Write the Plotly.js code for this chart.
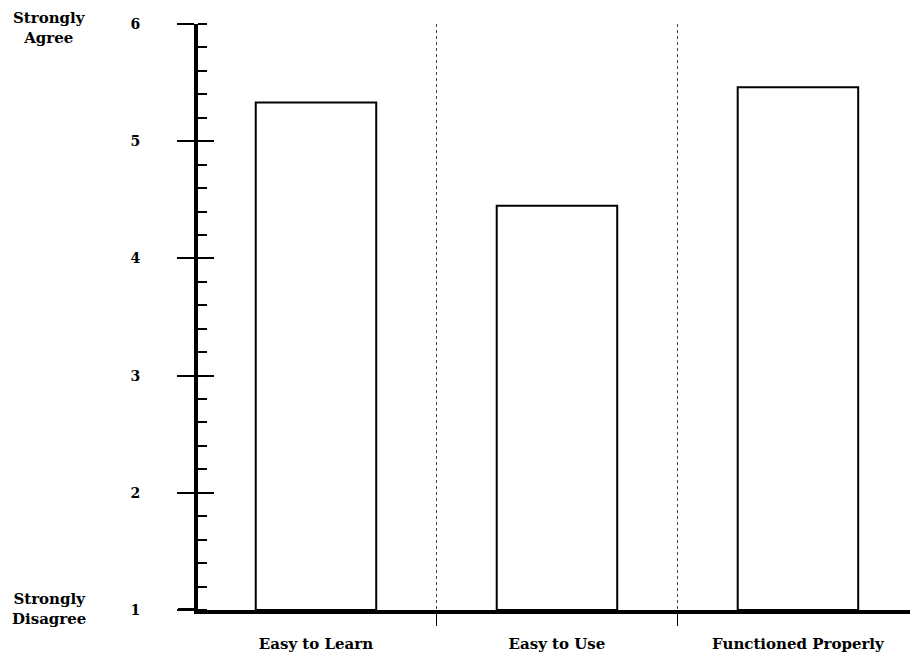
<!DOCTYPE html>
<html>
<head>
<meta charset="utf-8">
<script src="https://cdn.plot.ly/plotly-3.0.1.min.js"></script>
<style>html,body{margin:0;padding:0;background:#fff;}#chart{width:910px;height:655px;}</style>
</head>
<body>
<div id="chart"></div>
<script>
const categories = ["Easy to Learn", "Easy to Use", "Functioned Properly"];
const ratings = [5.33, 4.45, 5.46];
const yTicks = [1, 2, 3, 4, 5, 6];
const scaleTop = "Strongly<br>Agree";
const scaleBottom = "Strongly<br>Disagree";

const fam = "DejaVu Serif, Liberation Serif, serif";

const data = [{
  type: "bar",
  x: categories,
  y: ratings.map(v => v - 1),
  base: 1,
  width: 0.5,
  marker: {color: "#fff", line: {color: "#000", width: 2}},
  hoverinfo: "skip"
}, {
  type: "scatter", x: [categories[0]], y: [1], yaxis: "y2",
  mode: "markers", marker: {opacity: 0}, showlegend: false, hoverinfo: "skip"
}];

const layout = {
  width: 910, height: 655,
  margin: {l: 198, r: 0, t: 24, b: 45},
  paper_bgcolor: "#fff", plot_bgcolor: "#fff",
  showlegend: false,
  font: {family: fam, size: 14, color: "#000"},
  xaxis: {
    type: "category",
    range: [-0.4896, 2.465],
    showline: true, linecolor: "#000", linewidth: 4,
    ticks: "outside", ticklen: 12, tickwidth: 1, tickcolor: "#000",
    tickson: "boundaries",
    showgrid: true, griddash: "dot", gridcolor: "#444", gridwidth: 1,
    ticklabelstandoff: 17,
    tickfont: {family: fam, size: 15, color: "#000", weight: "bold"},
    zeroline: false, fixedrange: true
  },
  yaxis: {
    range: [1, 6],
    tickvals: yTicks,
    showline: true, linecolor: "#000", linewidth: 4,
    ticks: "outside", ticklen: 17, tickwidth: 2, tickcolor: "#000",
    minor: {dtick: 0.2, ticks: "inside", ticklen: 9, tickwidth: 2, tickcolor: "#000"},
    ticklabelstandoff: 34,
    tickfont: {family: fam, size: 14, color: "#000", weight: "bold"},
    showgrid: false, zeroline: false, fixedrange: true
  },
  yaxis2: {
    overlaying: "y", anchor: "x", side: "left",
    range: [1, 6], tickvals: yTicks,
    ticks: "inside", ticklen: 16, tickwidth: 2, tickcolor: "#000",
    showticklabels: false, showline: false, showgrid: false, zeroline: false, fixedrange: true
  },
  shapes: [{
    type: "line", xref: "paper", yref: "y",
    x0: -0.028, x1: 0, y0: 1, y1: 1, ysizemode: "scaled",
    line: {color: "#000", width: 4}
  }],
  annotations: [
    {text: scaleTop, xref: "paper", yref: "y", x: -0.209, y: 6, yshift: -4,
     showarrow: false, align: "center", xanchor: "center",
     font: {family: fam, size: 15, color: "#000", weight: "bold"}},
    {text: scaleBottom, xref: "paper", yref: "y", x: -0.209, y: 1, yshift: 1,
     showarrow: false, align: "center", xanchor: "center",
     font: {family: fam, size: 15, color: "#000", weight: "bold"}}
  ]
};

Plotly.newPlot("chart", data, layout, {displayModeBar: false, staticPlot: true});
</script>
</body>
</html>
